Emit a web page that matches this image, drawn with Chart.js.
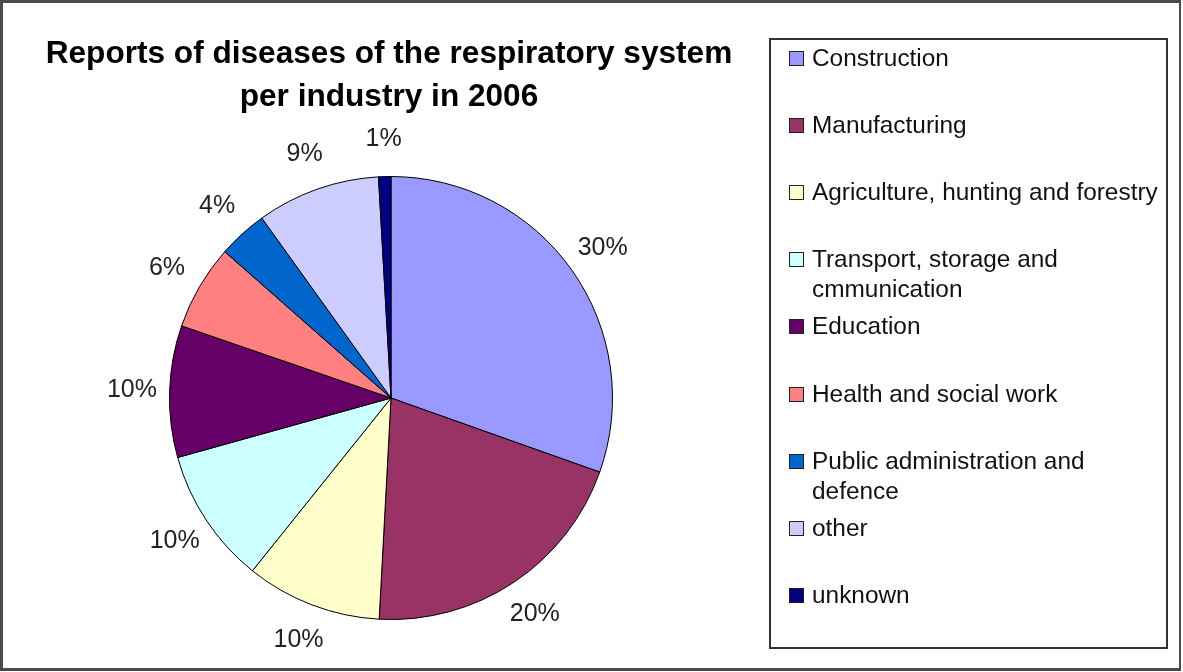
<!DOCTYPE html>
<html>
<head>
<meta charset="utf-8">
<script src="https://cdn.jsdelivr.net/npm/chart.js@4/dist/chart.umd.min.js"></script>
<style>
    html, body { margin: 0; padding: 0; background: #fff; }
    #wrap { position: relative; width: 1183px; height: 672px; overflow: hidden; }
    #frame { position: absolute; left: 0; top: 0; width: 1181px; height: 671px; box-sizing: border-box;
             border: 3px solid #4a4a4a; border-right-width: 2px; pointer-events: none; }
    #title { position: absolute; left: 0; top: 31px; width: 778px; text-align: center;
             font: bold 31.6px "Liberation Sans", Arial, sans-serif; line-height: 43px; color: #000; }
    #legend { position: absolute; left: 769px; top: 38px; width: 399px; height: 611px; box-sizing: border-box;
              border: 2px solid #333; font: 24.4px "Liberation Sans", Arial, sans-serif; color: #111; }
    .item { position: absolute; left: 18px; }
    .sw { position: absolute; left: 0; top: 8px; width: 13px; height: 13px; border: 1px solid #222; }
    .txt { position: absolute; left: 23px; top: 0; width: 352px; line-height: 30px; }
</style>
</head>
<body>
<div id="wrap">
    <canvas id="pie" width="1183" height="672"></canvas>
    <div id="title">Reports of diseases of the respiratory system<br>per industry in 2006</div>
    <div id="legend"></div>
    <div id="frame"></div>
</div>
<script>
// Данные диаграммы (доли в процентах)
const categories = [
    'Construction',
    'Manufacturing',
    'Agriculture, hunting and forestry',
    'Transport, storage and cmmunication',
    'Education',
    'Health and social work',
    'Public administration and defence',
    'other',
    'unknown'
];
const shares = [30.4, 20.4, 9.9, 9.9, 9.6, 6.2, 3.6, 9.0, 0.9];
const sliceColors = ['#9999FF', '#993366', '#FFFFCC', '#CCFFFF', '#660066', '#FF8080', '#0066CC', '#CCCCFF', '#000080'];

// Подписи процентов снаружи круга
const percentLabels = {
    id: 'percentLabels',
    afterDatasetsDraw(chart) {
        const ctx = chart.ctx;
        const meta = chart.getDatasetMeta(0);
        const data = chart.data.datasets[0].data;
        const total = data.reduce((a, b) => a + b, 0);
        ctx.save();
        ctx.font = '25px "Liberation Sans", Arial, sans-serif';
        ctx.fillStyle = '#222';
        ctx.textAlign = 'center';
        ctx.textBaseline = 'middle';
        meta.data.forEach((arc, i) => {
            const mid = (arc.startAngle + arc.endAngle) / 2;
            const r = arc.outerRadius * 1.17;
            const x = arc.x + Math.cos(mid) * r;
            const y = arc.y + Math.sin(mid) * r;
            ctx.fillText(Math.round(data[i] / total * 100) + '%', x, y);
        });
        ctx.restore();
    }
};

const pieChart = new Chart(document.getElementById('pie'), {
    type: 'pie',
    data: {
        labels: categories,
        datasets: [{
            data: shares,
            backgroundColor: sliceColors,
            borderColor: '#000',
            borderWidth: 1
        }]
    },
    options: {
        responsive: false,
        animation: false,
        layout: { padding: { left: 169, right: 570, top: 176, bottom: 52 } },
        plugins: {
            legend: { display: false },
            title: { display: false },
            tooltip: { enabled: false }
        }
    },
    plugins: [percentLabels]
});

// Легенда справа, строится из данных диаграммы
function buildLegend(chart) {
    const box = document.getElementById('legend');
    const colors = chart.data.datasets[0].backgroundColor;
    chart.data.labels.forEach((label, i) => {
        const item = document.createElement('div');
        item.className = 'item';
        item.style.top = (3 + i * 67.1) + 'px';
        item.innerHTML = '<div class="sw" style="background:' + colors[i] + '"></div>' +
            '<div class="txt">' + label + '</div>';
        box.appendChild(item);
    });
}
buildLegend(pieChart);
</script>
</body>
</html>
